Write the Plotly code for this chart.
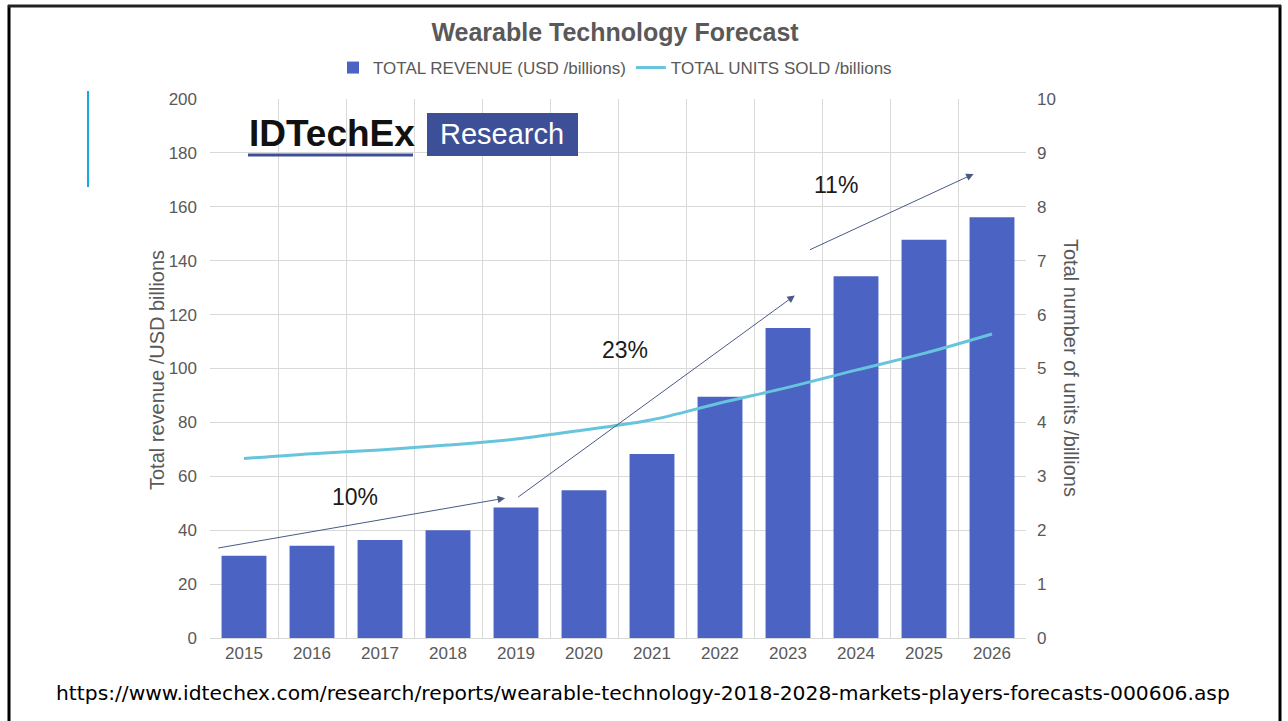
import plotly.graph_objects as go

# Forecast data
years = ["2015", "2016", "2017", "2018", "2019", "2020",
         "2021", "2022", "2023", "2024", "2025", "2026"]
revenue_usd_bn = [30.5, 34.2, 36.4, 40.0, 48.4, 54.8,
                  68.3, 89.5, 115.0, 134.2, 147.8, 156.1]
units_sold_bn = [3.33, 3.42, 3.49, 3.58, 3.69, 3.86,
                 4.05, 4.36, 4.65, 4.97, 5.28, 5.64]

# Growth-rate callouts: (label, label x, label y, tail x, tail y, head x, head y)
growth_labels = ["10%", "23%", "11%"]
growth_label_pos = [(1.63, 52.3), (5.60, 106.8), (8.71, 168.0)]
growth_arrows = [((-0.40, 33.3), (3.84, 51.9)),
                 ((4.01, 51.9), (8.10, 127.1)),
                 ((8.30, 143.8), (10.73, 172.2))]

source_url = ("https://www.idtechex.com/research/reports/"
              "wearable-technology-2018-2028-markets-players-forecasts-000606.asp")

W, H = 1288, 721
ML, MR, MT, MB = 210, 262, 99, 83
PW, PH = W - ML - MR, H - MT - MB

def px(x):
    return (x - ML) / PW

def py(y):
    return (H - MB - y) / PH

GREY = "#595959"
FONT = "Liberation Sans, Arial, sans-serif"

fig = go.Figure()
fig.add_trace(go.Bar(
    x=years, y=revenue_usd_bn, name="TOTAL REVENUE (USD /billions)",
    marker=dict(color="#4B63C3", line=dict(width=0)), yaxis="y",
))
fig.add_trace(go.Scatter(
    x=years, y=units_sold_bn, name="TOTAL UNITS SOLD /billions",
    mode="lines", line=dict(color="#66C4DC", width=3, shape="spline"),
    yaxis="y2",
))

annotations = []
for (lx, ly), txt in zip(growth_label_pos, growth_labels):
    annotations.append(dict(x=lx, y=ly, xref="x", yref="y", text=txt,
                            showarrow=False, font=dict(size=23, color="#1a1a1a", family=FONT)))
for (tx, ty), (hx, hy) in growth_arrows:
    annotations.append(dict(x=hx, y=hy, ax=tx, ay=ty, xref="x", yref="y",
                            axref="x", ayref="y", text="", showarrow=True,
                            arrowhead=2, arrowsize=1.5, arrowwidth=1,
                            arrowcolor="#4A5A86"))

# Axis titles
annotations.append(dict(x=px(157), y=py(370), xref="paper", yref="paper",
                        xanchor="center", yanchor="middle",
                        text="Total revenue /USD billions", textangle=-90,
                        showarrow=False, font=dict(size=20, color=GREY, family=FONT)))
annotations.append(dict(x=px(1071), y=py(368), xref="paper", yref="paper",
                        xanchor="center", yanchor="middle",
                        text="Total number of units /billions", textangle=90,
                        showarrow=False, font=dict(size=20, color=GREY, family=FONT)))

# Logo
annotations.append(dict(x=px(247), y=py(133), xref="paper", yref="paper",
                        xanchor="left", yanchor="middle", text="<b>IDTechEx</b>",
                        showarrow=False, font=dict(size=37, color="#111111", family=FONT)))
annotations.append(dict(x=px(502), y=py(134), xref="paper", yref="paper",
                        xanchor="center", yanchor="middle", text="Research",
                        showarrow=False, font=dict(size=29, color="white", family=FONT)))

# Source URL
annotations.append(dict(x=px(643), y=py(693), xref="paper", yref="paper",
                        xanchor="center", yanchor="middle", text=source_url,
                        showarrow=False, font=dict(size=20.3, color="black", family="DejaVu Sans")))

shapes = [
    dict(type="rect", xref="paper", yref="paper", x0=px(427), x1=px(578),
         y0=py(156), y1=py(113), fillcolor="#3D4F96", line=dict(width=0), layer="above"),
    dict(type="line", xref="paper", yref="paper", x0=px(248), x1=px(413),
         y0=py(155), y1=py(155), line=dict(color="#3D4F96", width=3), layer="above"),
    dict(type="line", xref="paper", yref="paper", x0=px(88), x1=px(88),
         y0=py(91), y1=py(187), line=dict(color="#1AA7E0", width=2)),
    # slide frame
    dict(type="line", xref="paper", yref="paper", x0=px(9), x1=px(9),
         y0=py(5), y1=py(725), line=dict(color="black", width=3)),
    dict(type="line", xref="paper", yref="paper", x0=px(1280), x1=px(1280),
         y0=py(5), y1=py(725), line=dict(color="black", width=3)),
    dict(type="line", xref="paper", yref="paper", x0=px(8), x1=px(1281),
         y0=py(6), y1=py(6), line=dict(color="#222222", width=3)),
]

fig.update_layout(
    width=W, height=H,
    margin=dict(l=ML, r=MR, t=MT, b=MB),
    paper_bgcolor="white", plot_bgcolor="white",
    font=dict(family=FONT, color=GREY, size=16),
    title=dict(text="<b>Wearable Technology Forecast</b>", x=px(615), xref="paper",
               xanchor="center", y=1 - 32 / H, yanchor="middle",
               font=dict(size=25, color=GREY, family=FONT)),
    legend=dict(orientation="h", x=px(615), xanchor="center", y=py(68), yanchor="middle",
                font=dict(size=17, color=GREY, family=FONT), bgcolor="rgba(0,0,0,0)",
                itemwidth=30, traceorder="normal"),
    bargap=0.34,
    xaxis=dict(type="category", tickson="boundaries", showgrid=True, gridcolor="#D9D9D9",
               gridwidth=1, ticks="", showline=True, linecolor="#D9D9D9",
               tickfont=dict(size=17, color=GREY), range=[-0.5, 11.5], zeroline=False),
    yaxis=dict(range=[0, 200], dtick=20, showgrid=True, gridcolor="#D9D9D9",
               zeroline=False, tickfont=dict(size=17, color=GREY), ticks="",
               ticklabelstandoff=12),
    yaxis2=dict(range=[0, 10], dtick=1, overlaying="y", side="right", showgrid=False,
                zeroline=False, tickfont=dict(size=17, color=GREY), ticks="",
                ticklabelstandoff=10),
    annotations=annotations,
    shapes=shapes,
    showlegend=True,
)

fig.write_html("out.html")
